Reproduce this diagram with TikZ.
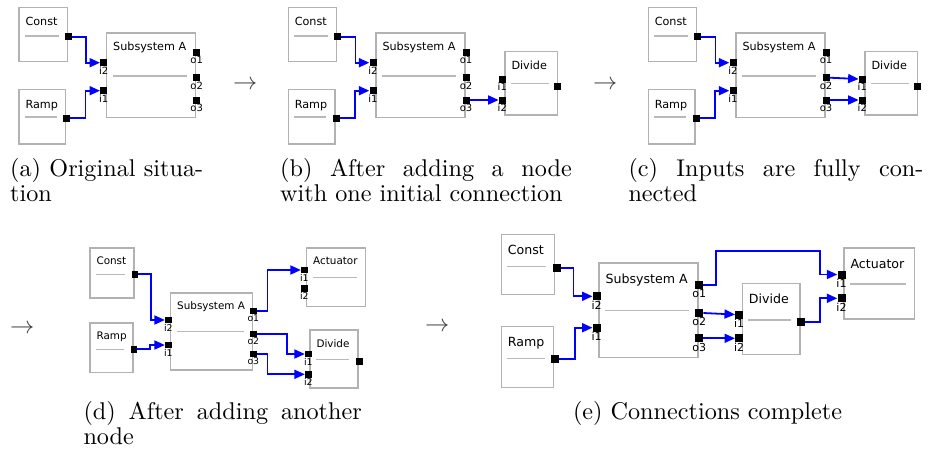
\documentclass[tikz,border=0pt]{standalone}
\usepackage{fontspec}
\usepackage{graphicx}
\newfontfamily\uifont{DejaVu Sans}
\usetikzlibrary{arrows.meta}

\definecolor{boxgray}{RGB}{178,178,178}
\definecolor{sepgray}{RGB}{185,185,185}
\definecolor{wireblue}{RGB}{0,0,255}
\definecolor{stepgray}{RGB}{60,60,60}

% sizes used by the block diagrams (changed per sub-figure)
\def\ttsz{11.2}
\def\plsz{10}
\def\psz{7}

\tikzset{
  blk/.style={draw=boxgray, line width=1.4pt, inner sep=0pt},
  sepline/.style={draw=sepgray, line width=1.3pt},
  ttl/.style={inner sep=0pt, font=\uifont\fontsize{\ttsz}{\ttsz}\selectfont},
  port/.style={fill=black, draw=none, minimum size=\psz, inner sep=0pt},
  plab/.style={inner sep=0.4pt, font=\uifont\fontsize{\plsz}{\plsz}\selectfont},
  conn/.style={draw=wireblue, line width=1.8pt, -{Triangle[length=10.5pt,width=9pt]}},
  captext/.style={anchor=base west, inner sep=0pt},
  stepmark/.style={anchor=west, inner sep=0pt, text=stepgray},
}

% block: name, x1, y1, x2, y2, title, title baseline, separator y
\newcommand\blk[8]{%
  \node[blk, anchor=north west, minimum width={(#4)-(#2)}, minimum height={(#5)-(#3)}] (#1) at (#2,#3) {};
  \node[ttl, anchor=base west] (#1t) at ({#2+7},#7) {#6};
  \draw[sepline] ({#2+6.5},#8) -- ({#4-8},#8);
}
% labelled port: name, x, y, label
\newcommand\prt[4]{%
  \node[port, label distance=1.8pt, label={[plab]below:#4}] (#1) at (#2,#3) {};
}
% caption text at 10pt, enlarged
\newcommand\capt[1]{\scalebox{2.42}{#1}}

% Const, Ramp and Subsystem A with their two input wires
\newcommand\basepart[1]{%
  \blk{#1C}{18.3}{6.7}{66.7}{61}{Const}{25.5}{36}
  \blk{#1R}{18.3}{89}{65}{143.3}{Ramp}{108}{117}
  \blk{#1S}{106}{32.3}{195}{116.7}{Subsystem A}{50.5}{76}
  \node[port] (#1Co) at (68,36.7) {};
  \node[port] (#1Ro) at (66.7,118.3) {};
  \prt{#1Si2}{103.7}{62.7}{i2}
  \prt{#1Si1}{103.7}{90.7}{i1}
  \prt{#1So1}{196.7}{52.3}{o1}
  \prt{#1So2}{196.7}{77.7}{o2}
  \prt{#1So3}{196.7}{100}{o3}
  \draw[conn] (#1Co.east) -- ++(14.5,0) |- (#1Si2.west);
  \draw[conn] (#1Ro.east) -- ++(15,0) |- (#1Si1.west);
}
% Divide block to the right of Subsystem A
\newcommand\dividepart[1]{%
  \blk{#1D}{235}{50.7}{287.4}{114.3}{Divide}{69}{83.3}
  \prt{#1Di1}{233}{79}{i1}
  \prt{#1Di2}{233}{100}{i2}
  \node[port] (#1Do) at (288,86) {};
}

\begin{document}
\begin{tikzpicture}[x=1pt, y=-1pt]
\useasboundingbox (0,0) rectangle (933,451);

% ---------- (a) ----------
\basepart{a}

% ---------- (b) ----------
\begin{scope}[xshift=269.3pt]
  \basepart{b}
  \dividepart{b}
  \draw[conn] (bSo3.east) -- (bDi2.west);
\end{scope}

% ---------- (c) ----------
\begin{scope}[xshift=629.3pt]
  \basepart{c}
  \dividepart{c}
  \draw[conn] (cSo2.east) -- (cDi1.west);
  \draw[conn] (cSo3.east) -- (cDi2.west);
\end{scope}

% ---------- (d) ----------
\begin{scope}
  \def\ttsz{10.4}\def\plsz{9.3}\def\psz{6.5}
  \blk{dC}{89.3}{247.3}{133.3}{297.3}{Const}{264.3}{274.3}
  \blk{dR}{89.3}{322.3}{132.3}{371.7}{Ramp}{339.5}{349.3}
  \blk{dS}{170}{292.3}{251.7}{369.3}{Subsystem A}{309.5}{331.7}
  \blk{dA}{306}{247.3}{365}{305.7}{Actuator}{264.7}{277.7}
  \blk{dD}{309.3}{329.3}{357.3}{387.3}{Divide}{347}{359.3}
  \node[port] (dCo) at (135,274.3) {};
  \node[port] (dRo) at (134,349.3) {};
  \prt{dSi2}{168.3}{320}{i2}
  \prt{dSi1}{168.3}{345}{i1}
  \prt{dSo1}{253.3}{311}{o1}
  \prt{dSo2}{253.3}{334}{o2}
  \prt{dSo3}{253.3}{354}{o3}
  \prt{dAi1}{304.3}{270}{i1}
  \prt{dAi2}{304.3}{288.3}{i2}
  \prt{dDi1}{308.3}{354}{i1}
  \prt{dDi2}{308.3}{374.3}{i2}
  \node[port] (dDo) at (359.3,361.7) {};
  \draw[conn] (dCo.east) -- ++(12.7,0) |- (dSi2.west);
  \draw[conn] (dRo.east) -- ++(12.7,0) |- (dSi1.west);
  \draw[conn] (dSo1.east) -- ++(10.8,0) |- (dAi1.west);
  \draw[conn] (dSo2.east) -- ++(30.2,0) |- (dDi1.west);
  \draw[conn] (dSo3.east) -- ++(10.8,0) |- (dDi2.west);
\end{scope}

% ---------- (e) ----------
\begin{scope}
  \def\ttsz{12.6}\def\plsz{11}\def\psz{8}
  \blk{eC}{500.7}{234}{554}{294}{Const}{254.5}{266.7}
  \blk{eR}{500.7}{326}{552.7}{386.7}{Ramp}{346.5}{358.3}
  \blk{eS}{598.3}{262.3}{697.3}{356.7}{Subsystem A}{283.5}{310.7}
  \blk{eD}{741.7}{282.7}{799.3}{354}{Divide}{303.5}{320}
  \blk{eA}{843.3}{247.3}{914}{318.3}{Actuator}{268.5}{284}
  \node[port] (eCo) at (556.7,267.7) {};
  \node[port] (eRo) at (555,359) {};
  \prt{eSi2}{596.7}{296.3}{i2}
  \prt{eSi1}{596.7}{327.7}{i1}
  \prt{eSo1}{699.2}{284.7}{o1}
  \prt{eSo2}{699.2}{313}{o2}
  \prt{eSo3}{699.2}{338.3}{o3}
  \prt{eDi1}{739.2}{314.5}{i1}
  \prt{eDi2}{739.2}{338.3}{i2}
  \node[port] (eDo) at (800.8,322.2) {};
  \prt{eAi1}{841.5}{274.5}{i1}
  \prt{eAi2}{841.5}{298.3}{i2}
  \draw[conn] (eCo.east) -- ++(12.6,0) |- (eSi2.west);
  \draw[conn] (eRo.east) -- ++(16,0) |- (eSi1.west);
  \draw[conn] (eSo1.east) -- ++(12.8,0) -- ++(0,-34) -- ++(104,0) |- (eAi1.west);
  \draw[conn] (eSo2.east) -- (eDi1.west);
  \draw[conn] (eSo3.east) -- (eDi2.west);
  \draw[conn] (eDo.east) -- ++(15.2,0) |- (eAi2.west);
\end{scope}

% ---------- step arrows ----------
\node[stepmark] (s1) at (233,85) {\capt{$\rightarrow$}};
\node[stepmark] (s2) at (593,85) {\capt{$\rightarrow$}};
\node[stepmark] (s3) at (10,329.3) {\capt{$\rightarrow$}};
\node[stepmark] (s4) at (425,327) {\capt{$\rightarrow$}};

% ---------- captions ----------
\node[captext] (ca1) at (10,176.5) {\capt{\makebox[79.75pt][s]{(a) Original situa-}}};
\node[captext] (ca2) at (10,201.5) {\capt{tion}};
\node[captext] (cb1) at (280,176.5) {\capt{\makebox[120.5pt][s]{(b) After adding a node}}};
\node[captext] (cb2) at (280,201.5) {\capt{with one initial connection}};
\node[captext] (cc1) at (628.3,176.5) {\capt{\makebox[121.9pt][s]{(c) Inputs are fully con-}}};
\node[captext] (cc2) at (628.3,201.5) {\capt{nected}};
\node[captext] (cd1) at (83.3,419.5) {\capt{\makebox[115pt][s]{(d) After adding another}}};
\node[captext] (cd2) at (83.3,444.5) {\capt{node}};
\node[captext, anchor=base] (ce1) at (707.5,419.5) {\capt{(e) Connections complete}};
\end{tikzpicture}
\end{document}
